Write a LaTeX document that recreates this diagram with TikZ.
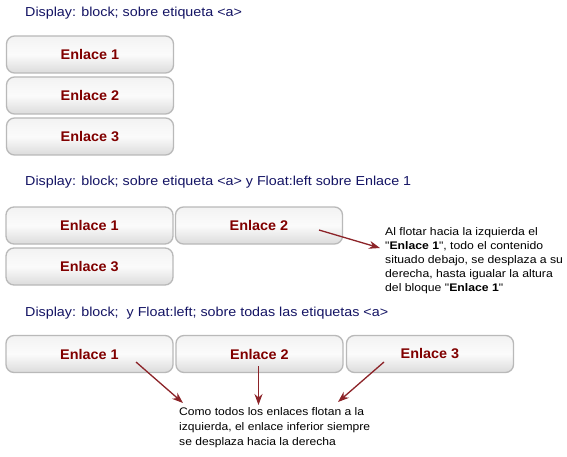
\documentclass[tikz,border=0pt]{standalone}
\usepackage{fontspec}
\setmainfont{Liberation Sans}
\newfontfamily\headfont[FakeStretch=1.1]{Liberation Sans}
\newfontfamily\noteAfont[FakeStretch=1.11]{Liberation Sans}
\newfontfamily\noteBfont[FakeStretch=1.1]{Liberation Sans}
\newfontfamily\lblfont[FakeStretch=1.03]{Liberation Sans}
\usetikzlibrary{arrows.meta}
\definecolor{headblue}{RGB}{20,20,100}
\definecolor{lblred}{RGB}{128,0,0}
\definecolor{arrred}{RGB}{140,35,40}
\definecolor{btnedge}{RGB}{185,185,185}
\tikzset{
  btn/.style={draw=btnedge, line width=1.3pt, rounded corners=8pt,
    top color=white!90!gray, bottom color=gray!28, middle color=white!97!gray,
    minimum width=167pt, minimum height=37pt, inner sep=0pt,
    font=\lblfont\fontsize{14}{16}\selectfont\bfseries, text=lblred},
  heading/.style={anchor=west, inner sep=0pt, text=headblue, font=\headfont\fontsize{13}{15}\selectfont},
  note/.style={anchor=north west, inner sep=0pt, align=left, text=black},
  arr/.style={draw=arrred, line width=1.3pt, -{Stealth[length=11pt,width=8pt,inset=3.5pt]}},
}
\begin{document}
\begin{tikzpicture}[x=1pt,y=-1pt]
\path[use as bounding box, fill=white] (0,0) rectangle (567,457);
% Section 1
\node[heading] (h1) at (25,13) {Display: block; sobre etiqueta <a>};
\node[btn] (a1) at (90,54.5) {Enlace 1};
\node[btn] (a2) at (90,95.5) {Enlace 2};
\node[btn] (a3) at (90,136.5) {Enlace 3};
% Section 2
\node[heading] (h2) at (25,182) {Display: block; sobre etiqueta <a> y Float:left sobre Enlace 1};
\node[btn] (b1) at (89.5,225.5) {Enlace 1};
\node[btn] (b2) at (259,225.5) {Enlace 2};
\node[btn] (b3) at (89.5,266.5) {Enlace 3};
\node[note, font=\noteAfont\fontsize{11}{14.2}\selectfont] (n1) at (385,227)
 {Al flotar hacia la izquierda el\\
  "\textbf{Enlace 1}", todo el contenido\\
  situado debajo, se desplaza a su\\
  derecha, hasta igualar la altura\\
  del bloque "\textbf{Enlace 1}"};
\coordinate (p1s) at (319,230);
\coordinate (p1e) at (380,248);
\draw[arr] (p1s) -- (p1e);
% Section 3
\node[heading] (h3) at (25,313) {Display: block;\ \ y Float:left; sobre todas las etiquetas <a>};
\node[btn] (c1) at (89.5,354) {Enlace 1};
\node[btn] (c2) at (259.5,354) {Enlace 2};
\node[btn] (c3) at (430,354) {Enlace 3};
\node[note, font=\noteBfont\fontsize{11}{15.4}\selectfont] (n2) at (179,407)
 {Como todos los enlaces flotan a la\\
  izquierda, el enlace inferior siempre\\
  se desplaza hacia la derecha};
\coordinate (q1s) at (136,362);
\coordinate (q1e) at (183,403);
\coordinate (q2s) at (258.5,366);
\coordinate (q2e) at (258.5,405);
\coordinate (q3s) at (384,362);
\coordinate (q3e) at (338,402);
\draw[arr] (q1s) -- (q1e);
\draw[arr] (q2s) -- (q2e);
\draw[arr] (q3s) -- (q3e);
\end{tikzpicture}
\end{document}
